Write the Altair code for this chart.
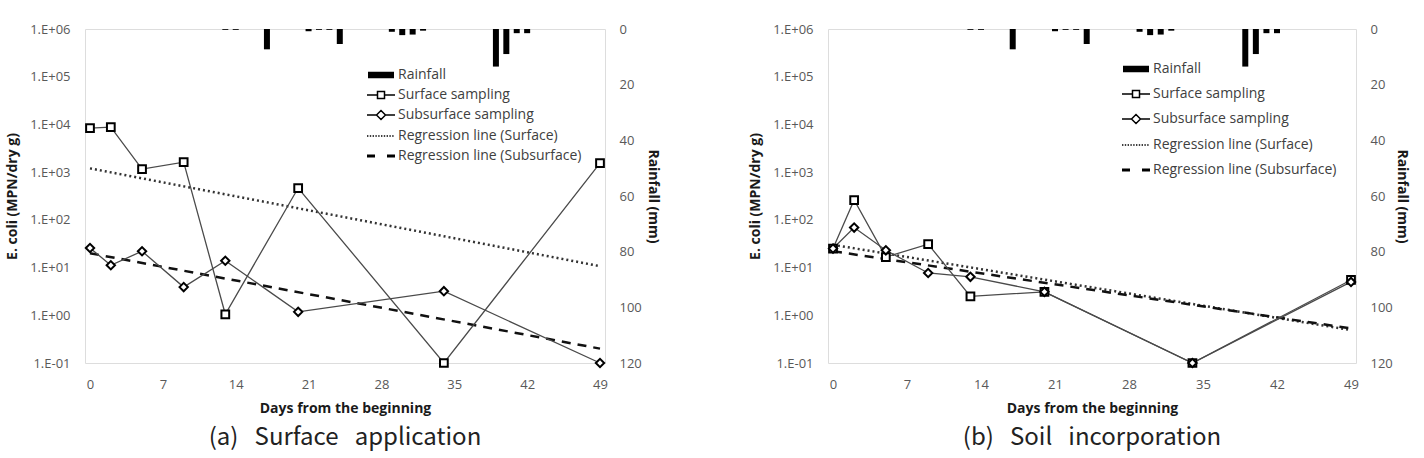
import altair as alt
import pandas as pd

# ---------------- data ----------------
days = [0, 2, 5, 9, 13, 20, 34, 49]
a_surface = [8400, 8800, 1160, 1620, 1.05, 465, 0.1, 1550]
a_subsurface = [25.7, 11.2, 22, 3.9, 13.9, 1.18, 3.2, 0.1]
b_surface = [25, 260, 16.6, 31, 2.5, 3.1, 0.1, 5.5]
b_subsurface = [25, 69, 23, 7.7, 6.4, 3.1, 0.1, 5.0]

reg_days = [0, 49]
a_reg_surface = [1200, 10.7]
a_reg_subsurface = [20, 0.2]
b_reg_surface = [30, 0.49]
b_reg_subsurface = [22, 0.53]

rain_days = [13, 14, 17, 21, 22, 23, 24, 29, 30, 31, 32, 39, 40, 41, 42]
rain_mm = [0.3, 0.3, 7.3, 0.8, 0.3, 0.3, 5.4, 1.0, 2.2, 2.0, 0.6, 13.5, 9.0, 1.5, 1.5]

x_ticks = [0, 7, 14, 21, 28, 35, 42, 49]
y_ticks = [0.1, 1, 10, 100, 1000, 10000, 100000, 1000000]
rain_ticks = [0, 20, 40, 60, 80, 100, 120]

legend_labels = ["Rainfall", "Surface sampling", "Subsurface sampling",
                 "Regression line (Surface)", "Regression line (Subsurface)"]

NB = "\u00a0"
captions = [f"(a){NB}{NB} Surface{NB}{NB} application", f"(b){NB}{NB} Soil{NB}{NB} incorporation"]

# ---------------- legend symbol paths (styling) ----------------
def dotted(x0, x1, seg=0.14, gap=0.14):
    parts = []
    x = x0
    while x < x1:
        parts.append(f"M{x:.2f},0H{min(x + seg, x1):.2f}")
        x += seg + gap
    return "".join(parts)

rain_path = "".join(f"M-1.3,{y:.2f}H1.3" for y in [-0.25, -0.15, -0.05, 0.05, 0.15, 0.25])
sq_path = "M-1.4,0H-0.35M0.35,0H1.4M-0.35,-0.35H0.35V0.35H-0.35Z"
dm_path = "M-1.4,0H-0.45M0.45,0H1.4M-0.45,0L0,-0.45L0.45,0L0,0.45Z"
dot_path = dotted(-1.4, 1.4)
dash_path = "".join(f"M-1.4,{y}H-0.6M0.6,{y}H1.4" for y in [-0.07, 0, 0.07])
legend_paths = [rain_path, sq_path, dm_path, dot_path, dash_path]

FONT = "Open Sans"
LABEL_COLOR = "#595959"
TITLE_COLOR = "#1a1a1a"

x_enc = alt.X("day:Q", scale=alt.Scale(domain=[0, 49], nice=False, zero=False),
              axis=alt.Axis(values=x_ticks, title="Days from the beginning", grid=False,
                            labelPadding=15, titlePadding=10, titleFontSize=14,
                            labelFontSize=13, labelFont=FONT, labelColor=LABEL_COLOR,
                            titleFont=FONT, titleFontWeight="bold", titleColor=TITLE_COLOR,
                            ticks=False, domain=False))
ylog_scale = alt.Scale(type="log", domain=[0.1, 1e6], nice=False)
ylog_axis = alt.Axis(orient="left", values=y_ticks, grid=False, ticks=False, domain=False,
                     labelExpr="'1.E' + (datum.value < 1 ? '-01' : '+0' + round(log(datum.value)/LN10))",
                     title="E. coli (MPN/dry g)", labelPadding=15, titlePadding=10,
                     labelFontSize=13, labelFont=FONT, labelColor=LABEL_COLOR,
                     titleFont=FONT, titleFontWeight="bold", titleColor=TITLE_COLOR,
                     titleFontSize=14)


def panel(surface, subsurface, reg_s, reg_ss, caption, lx, ly, row_pad, width, rt_pad):
    df = pd.DataFrame({"day": days, "surface": surface, "subsurface": subsurface})
    reg = pd.DataFrame({"day": reg_days, "rs": reg_s, "rss": reg_ss})
    rain_df = pd.DataFrame({"day": rain_days, "rain": rain_mm})
    leg_df = pd.DataFrame({"series": legend_labels})

    rain = alt.Chart(rain_df).mark_bar(size=6, color="black").encode(
        x=x_enc,
        y=alt.Y("rain:Q", scale=alt.Scale(domain=[0, 120], reverse=True, nice=False),
                axis=alt.Axis(orient="right", values=rain_ticks, title="Rainfall (mm)",
                              grid=False, ticks=False, domain=False,
                              labelPadding=14, titlePadding=rt_pad,
                              labelFontSize=13, labelFont=FONT, labelColor=LABEL_COLOR,
                              titleFont=FONT, titleFontWeight="bold", titleColor=TITLE_COLOR,
                              titleFontSize=14)),
    )

    base = alt.Chart(df).encode(x=x_enc)
    line_s = base.mark_line(color="#4a4a4a", strokeWidth=1.3).encode(
        y=alt.Y("surface:Q", scale=ylog_scale, axis=ylog_axis))
    line_ss = base.mark_line(color="#4a4a4a", strokeWidth=1.3).encode(
        y=alt.Y("subsurface:Q", scale=ylog_scale, axis=ylog_axis))
    rbase = alt.Chart(reg).encode(x=x_enc)
    reg_line_s = rbase.mark_line(color="#333333", strokeWidth=2.5, strokeDash=[2, 3]).encode(
        y=alt.Y("rs:Q", scale=ylog_scale, axis=ylog_axis))
    reg_line_ss = rbase.mark_line(color="#111111", strokeWidth=2.5, strokeDash=[9, 7]).encode(
        y=alt.Y("rss:Q", scale=ylog_scale, axis=ylog_axis))
    pts_s = base.mark_point(shape="square", filled=True, fill="white", stroke="black",
                            strokeWidth=2, size=60, opacity=1).encode(
        y=alt.Y("surface:Q", scale=ylog_scale, axis=ylog_axis))
    pts_ss = base.mark_point(shape="diamond", filled=True, fill="white", stroke="black",
                             strokeWidth=2, size=70, opacity=1).encode(
        y=alt.Y("subsurface:Q", scale=ylog_scale, axis=ylog_axis))

    log_group = alt.layer(reg_line_s, reg_line_ss, line_s, line_ss, pts_s, pts_ss)

    leg = alt.Chart(leg_df).mark_point(color="black", strokeWidth=1.5).encode(
        x=alt.value(0), y=alt.value(0), opacity=alt.value(0),
        shape=alt.Shape("series:N",
                        scale=alt.Scale(domain=legend_labels, range=legend_paths),
                        legend=alt.Legend(title=None, orient="none", legendX=lx, legendY=ly,
                                          symbolSize=400, symbolOpacity=1,
                                          symbolStrokeColor="black", symbolFillColor="white",
                                          symbolStrokeWidth=1.5, rowPadding=row_pad,
                                          labelOffset=6, labelFont=FONT, labelFontSize=14,
                                          labelLimit=400,
                                          labelColor="#404040", padding=0)),
    )

    return alt.layer(rain, log_group, leg).resolve_scale(y="independent").properties(
        width=width, height=334,
        title=alt.TitleParams(caption, orient="bottom", anchor="middle", frame="group",
                              fontSize=24, font="Noto Sans CJK KR", fontWeight="normal",
                              color="#222222", offset=11),
    )


left = panel(a_surface, a_subsurface, a_reg_surface, a_reg_subsurface, captions[0],
             285, 35, 2, 520, 4)
right = panel(b_surface, b_subsurface, b_reg_surface, b_reg_subsurface, captions[1],
              297, 29, 7, 528, 2)

chart = alt.hconcat(left, right, spacing=88).resolve_scale(shape="independent").resolve_legend(
    shape="independent"
).properties(
    padding={"left": 5, "top": 22, "right": 4, "bottom": 2}
).configure_view(
    stroke="#808080", strokeWidth=2
).configure_axis(
    grid=False
).configure(background="white")

chart.save("out.html", embed_options={"renderer": "svg", "actions": False})
